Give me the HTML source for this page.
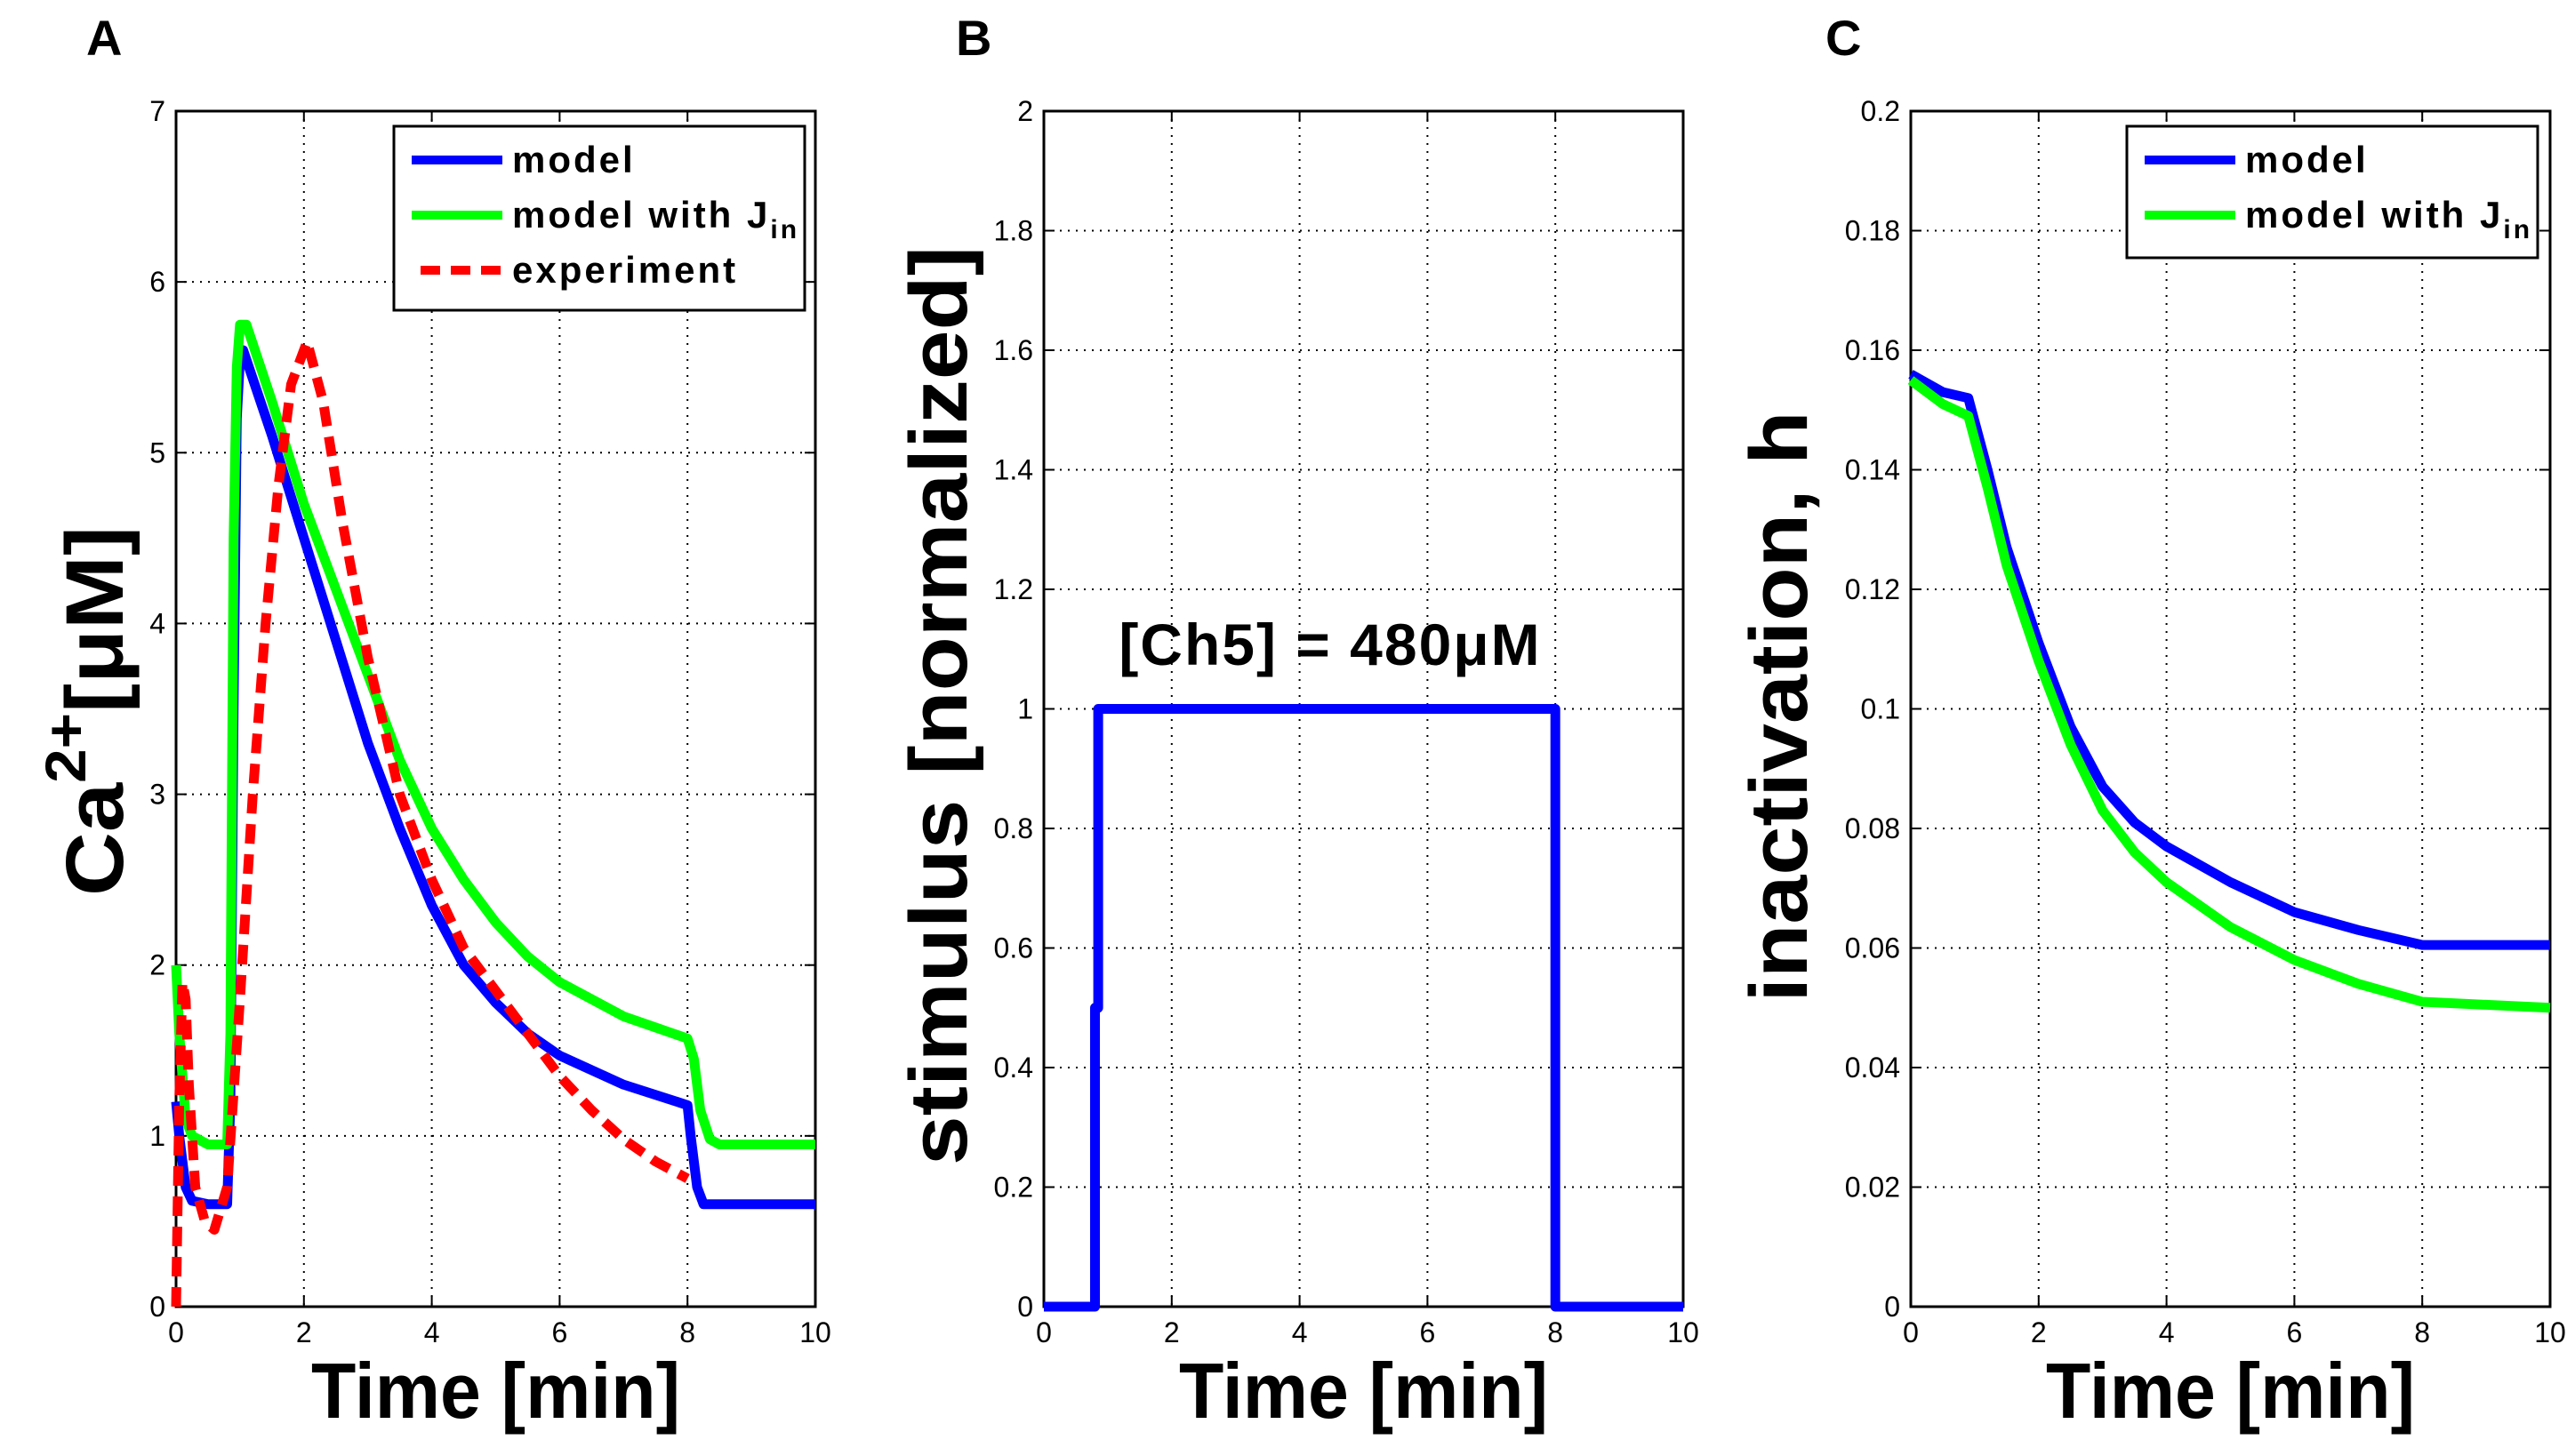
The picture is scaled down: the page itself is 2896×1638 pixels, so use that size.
<!DOCTYPE html>
<html><head><meta charset="utf-8"><style>
html,body{margin:0;padding:0;background:#fff;}
svg{display:block;font-family:"Liberation Sans",sans-serif;}
</style></head><body>
<svg id="fig" width="2896" height="1638" viewBox="0 0 2896 1638" xmlns="http://www.w3.org/2000/svg">
<rect width="2896" height="1638" fill="#fff"/>
</svg>
<script>
// ---- Data ----
const timeTicks = [0,2,4,6,8,10];
const caTicks = [0,1,2,3,4,5,6,7];
const stimTicks = [0,0.2,0.4,0.6,0.8,1,1.2,1.4,1.6,1.8,2];
const stimTickLabels = ["0","0.2","0.4","0.6","0.8","1","1.2","1.4","1.6","1.8","2"];
const hTicks = [0,0.02,0.04,0.06,0.08,0.1,0.12,0.14,0.16,0.18,0.2];
const hTickLabels = ["0","0.02","0.04","0.06","0.08","0.1","0.12","0.14","0.16","0.18","0.2"];

const caModelT = [0,0.05,0.15,0.25,0.5,0.8,0.85,0.9,0.95,1.0,1.05,1.5,2,2.5,3,3.5,4,4.5,5,5.5,6,7,8,8.05,8.15,8.25,10];
const caModelV = [1.2,1.0,0.7,0.62,0.6,0.6,1.2,3.5,5.2,5.55,5.6,5.1,4.5,3.9,3.3,2.8,2.35,2.0,1.78,1.6,1.47,1.3,1.18,1.0,0.7,0.6,0.6];
const caJinT = [0,0.05,0.15,0.25,0.5,0.8,0.85,0.9,0.95,1.0,1.1,1.5,2,2.5,3,3.5,4,4.5,5,5.5,6,7,8,8.1,8.2,8.35,8.5,10];
const caJinV = [2.0,1.6,1.1,1.0,0.95,0.95,1.6,4.5,5.5,5.75,5.75,5.3,4.7,4.2,3.7,3.2,2.8,2.5,2.25,2.05,1.9,1.7,1.57,1.45,1.15,0.98,0.95,0.95];
const caExpT = [0,0.05,0.1,0.15,0.2,0.3,0.45,0.6,0.8,1.0,1.2,1.4,1.6,1.8,2.05,2.3,2.6,3.0,3.5,4,4.5,5,5.5,6,6.5,7,7.5,8];
const caExpV = [0,1.2,1.9,1.8,1.3,0.7,0.5,0.45,0.7,1.8,3.0,4.0,4.8,5.4,5.65,5.3,4.6,3.8,3.0,2.5,2.1,1.85,1.6,1.35,1.15,0.98,0.85,0.75];

const stimT = [0,0.8,0.8,0.85,0.85,8,8,10];
const stimV = [0,0,0.5,0.5,1,1,0,0];

const hModelT = [0,0.5,0.9,1.2,1.5,2,2.5,3,3.5,4,5,6,7,8,10];
const hModelV = [0.156,0.153,0.152,0.14,0.127,0.111,0.097,0.087,0.081,0.077,0.071,0.066,0.063,0.0605,0.0605];
const hJinT = [0,0.5,0.9,1.2,1.5,2,2.5,3,3.5,4,5,6,7,8,9,10];
const hJinV = [0.155,0.151,0.149,0.137,0.124,0.108,0.094,0.083,0.076,0.071,0.0635,0.058,0.054,0.051,0.0505,0.050];

// ---- Drawing ----
const NS = "http://www.w3.org/2000/svg";
const svg = document.getElementById('fig');
function mk(tag, attrs, parent){
  const e = document.createElementNS(NS, tag);
  for (const k in attrs) e.setAttribute(k, attrs[k]);
  (parent||svg).appendChild(e);
  return e;
}
const TOP=125, BOT=1470;

function panel(id, x0, x1, ymax, yTicks, yLabels){
  const g = mk('g', {});
  
  
  const sx = t => x0 + (t/10)*(x1-x0);
  const sy = v => BOT - (v/ymax)*(BOT-TOP);
  timeTicks.forEach(t => {
    if (t>0 && t<10) {
      const l = mk('line', {x1:sx(t),x2:sx(t),y1:TOP,y2:BOT,stroke:'#000','stroke-width':2,'stroke-dasharray':'2 7'}, g);
      
      
    }
    const tl = mk('text', {x:sx(t), y:1510, 'font-size':32, 'text-anchor':'middle'}, g);
    
    
    tl.textContent = String(t);
    mk('line', {x1:sx(t),x2:sx(t),y1:BOT,y2:BOT-12,stroke:'#000','stroke-width':2}, g);
    mk('line', {x1:sx(t),x2:sx(t),y1:TOP,y2:TOP+12,stroke:'#000','stroke-width':2}, g);
  });
  yTicks.forEach((v,i) => {
    if (v>0 && v<ymax) {
      const l = mk('line', {x1:x0,x2:x1,y1:sy(v),y2:sy(v),stroke:'#000','stroke-width':2,'stroke-dasharray':'2 7'}, g);
      
      
    }
    const tl = mk('text', {x:x0-12, y:sy(v)+11, 'font-size':32, 'text-anchor':'end'}, g);
    
    
    tl.textContent = yLabels[i];
    mk('line', {x1:x0,x2:x0+12,y1:sy(v),y2:sy(v),stroke:'#000','stroke-width':2}, g);
    mk('line', {x1:x1,x2:x1-12,y1:sy(v),y2:sy(v),stroke:'#000','stroke-width':2}, g);
  });
  const fr = mk('rect', {x:x0,y:TOP,width:x1-x0,height:BOT-TOP,fill:'none',stroke:'#000','stroke-width':3}, g);
  
  
  const xt = mk('text', {x:(x0+x1)/2, y:1595, 'font-size':88, 'font-weight':'bold', 'text-anchor':'middle', textLength:415, lengthAdjust:'spacingAndGlyphs'}, g);
  
  
  xt.textContent = 'Time [min]';
  return {g, sx, sy};
}
function series(p, ts, vs, color, name, dash){
  const d = ts.map((t,i)=>(i?'L':'M')+p.sx(t).toFixed(1)+','+p.sy(vs[i]).toFixed(1)).join(' ');
  const a = {d, fill:'none', stroke:color, 'stroke-width':11, 'stroke-linejoin':'round'};
  if (dash) a['stroke-dasharray'] = dash;
  const path = mk('path', a, p.g);
  
  
}
function legend(x, y, w, h, entries){
  const g = mk('g', {});
  
  
  mk('rect', {x, y, width:w, height:h, fill:'#fff', stroke:'#000', 'stroke-width':3}, g);
  entries.forEach((e,i) => {
    const cy = y + 38 + i*62;
    const ln = {x1:x+20, x2:x+122, y1:cy, y2:cy, stroke:e.color, 'stroke-width':10};
    if (e.dash) { ln['stroke-dasharray']=e.dash; ln.x1 = x+30; }
    mk('line', ln, g);
    const t = mk('text', {x:x+133, y:cy+14, 'font-size':42, 'font-weight':'bold', 'letter-spacing':3}, g);
    
    
    t.textContent = e.label;
    if (e.sub) {
      const s = mk('tspan', {'font-size':30, dy:12}, t);
      s.textContent = e.sub;
    }
  });
}
function ylabel(x, cy, len, build, name){
  const t = mk('text', {transform:`translate(${x},${cy}) rotate(-90)`, 'font-size':92, 'font-weight':'bold', 'text-anchor':'middle', textLength:len, lengthAdjust:'spacingAndGlyphs'});
  
  
  build(t);
}
function letter(x, txt){
  const t = mk('text', {x, y:62, 'font-size':56, 'font-weight':'bold'});
  
  
  t.textContent = txt;
}

// Panel A
const pA = panel('ca', 198, 917, 7, caTicks, caTicks.map(String));
series(pA, caModelT, caModelV, '#0000ff', 'model-line');
series(pA, caJinT, caJinV, '#00ff00', 'model-jin-line');
series(pA, caExpT, caExpV, '#ff0000', 'experiment-line', '22 12');
legend(443, 142, 462, 207, [
  {label:'model', color:'#0000ff'},
  {label:'model with J', sub:'in', color:'#00ff00'},
  {label:'experiment', color:'#ff0000', dash:'22 12'}
]);
ylabel(138, 800, 416, t => {
  t.appendChild(document.createTextNode('Ca'));
  const s = mk('tspan', {dy:-42, 'font-size':64}, t); s.textContent='2+';
  const s2 = mk('tspan', {dy:42}, t); s2.textContent='[μM]';
}, 'y-axis-title');
letter(97, 'A');

// Panel B
const pB = panel('stim', 1174, 1893, 2, stimTicks, stimTickLabels);
series(pB, stimT, stimV, '#0000ff', 'stimulus-line');
const ann = mk('text', {x:1496, y:748, 'font-size':66, 'font-weight':'bold', 'text-anchor':'middle', 'letter-spacing':2}, pB.g);


ann.textContent = '[Ch5] = 480μM';
ylabel(1087, 794, 1034, t => { t.textContent = 'stimulus [normalized]'; }, 'y-axis-title');
letter(1075, 'B');

// Panel C
const pC = panel('h', 2149, 2868, 0.2, hTicks, hTickLabels);
series(pC, hModelT, hModelV, '#0000ff', 'h-model-line');
series(pC, hJinT, hJinV, '#00ff00', 'h-model-jin-line');
legend(2392, 142, 462, 148, [
  {label:'model', color:'#0000ff'},
  {label:'model with J', sub:'in', color:'#00ff00'}
]);
ylabel(2032, 795, 665, t => { t.textContent = 'inactivation, h'; }, 'y-axis-title');
letter(2053, 'C');
</script>
</body></html>
